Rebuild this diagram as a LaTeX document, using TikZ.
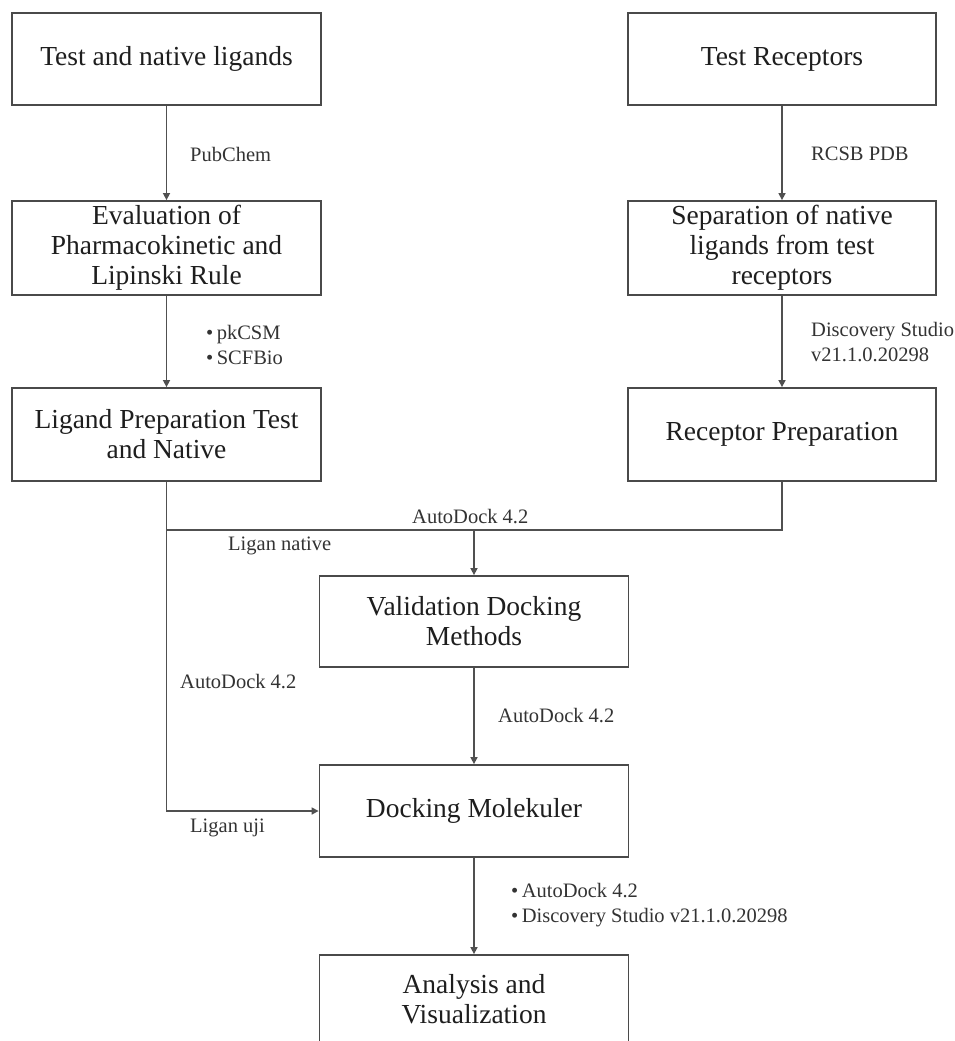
\documentclass[tikz,border=0pt]{standalone}
\usepackage{fontspec}
\setmainfont{Liberation Serif}
\usetikzlibrary{arrows.meta}
\definecolor{boxline}{HTML}{4A4A4A}
\definecolor{conline}{HTML}{505050}
\definecolor{boxtext}{HTML}{1E1E1E}
\definecolor{labtext}{HTML}{333333}
\tikzset{
  flowbox/.style={draw=boxline, line width=1.8pt, minimum width=309pt, inner sep=0pt,
    align=center, text=boxtext, font=\fontsize{27.5}{30}\selectfont},
  lab/.style={anchor=west, inner sep=0pt, text=labtext, align=left,
    font=\fontsize{20.5}{25}\selectfont},
  conn/.style={draw=conline, line width=1.5pt},
  arr/.style={conn, -{Triangle[length=7pt,width=7pt]}}
}
\begin{document}
\begin{tikzpicture}[x=1pt,y=-1pt]
\useasboundingbox[fill=white] (0,0) rectangle (954,1041);
% boxes
\node[flowbox, minimum height=92pt] (b1) at (166.5,59) {Test and native ligands};
\node[flowbox, minimum height=94pt] (b2) at (166.5,248) {Evaluation of\\Pharmacokinetic and\\Lipinski Rule};
\node[flowbox, minimum height=93pt] (b3) at (166.5,434.5) {Ligand Preparation Test\\and Native};
\node[flowbox, minimum width=308pt, minimum height=92pt] (r1) at (782,59) {Test Receptors};
\node[flowbox, minimum width=308pt, minimum height=94pt] (r2) at (782,248) {Separation of native\\ligands from test\\receptors};
\node[flowbox, minimum width=308pt, minimum height=93pt] (r3) at (782,434.5) {Receptor Preparation};
\node[flowbox, minimum height=91pt] (val) at (474,621.5) {Validation Docking\\Methods};
\node[flowbox, minimum height=92pt] (dock) at (474,811) {Docking Molekuler};
\node[flowbox, minimum height=88pt] (ana) at (474,999) {Analysis and\\Visualization};
% junction coordinates
\coordinate (jl) at (166.5,530);
\coordinate (jm) at (474,530);
% connectors
\draw[arr] (b1) -- (b2);
\draw[arr] (b2) -- (b3);
\draw[arr] (r1) -- (r2);
\draw[arr] (r2) -- (r3);
\draw[conn] (r3.south) |- (jl);
\draw[arr] (b3.south) |- (dock.west);
\draw[arr] (jm) -- (val.north);
\draw[arr] (val) -- (dock);
\draw[arr] (dock) -- (ana);
% labels
\node[lab] (l1) at (190,154) {PubChem};
\node[lab] (l2) at (206,345) {\textbullet\,pkCSM\\[0.5pt]\textbullet\,SCFBio};
\node[lab] (l3) at (811,154) {RCSB PDB};
\node[lab] (l4) at (811,342) {Discovery Studio\\v21.1.0.20298};
\node[lab] (l5) at (412,517) {AutoDock 4.2};
\node[lab] (l6) at (228,546) {Ligan native};
\node[lab] (l7) at (180,682) {AutoDock 4.2};
\node[lab] (l8) at (190,828) {Ligan uji};
\node[lab] (l9) at (498,716) {AutoDock 4.2};
\node[lab] (l10) at (511,905) {\textbullet\,AutoDock 4.2\\\textbullet\,Discovery Studio v21.1.0.20298};
\end{tikzpicture}
\end{document}
